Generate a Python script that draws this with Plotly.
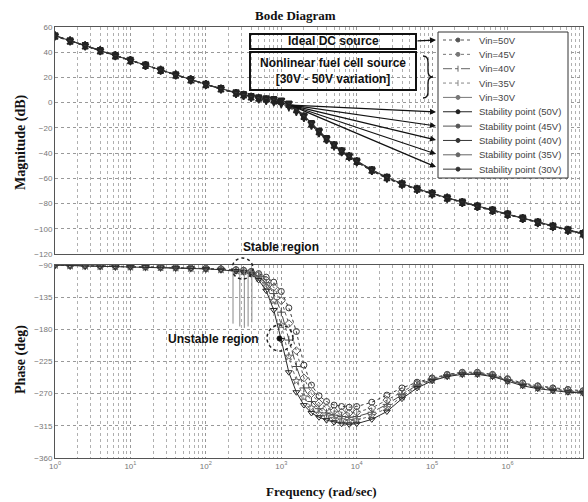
import plotly.graph_objects as go

# ---------------- data ----------------
freq_exp = [0, 0.2, 0.4, 0.6, 0.8, 1.0, 1.2, 1.4, 1.6, 1.8, 2.0, 2.2, 2.4, 2.5,
            2.6, 2.7, 2.8, 2.9, 3.0, 3.1, 3.2, 3.3, 3.4, 3.5, 3.6, 3.7, 3.8, 3.9,
            4.0, 4.2, 4.4, 4.6, 4.8, 5.0, 5.2, 5.4, 5.6, 5.8, 6.0, 6.2, 6.4, 6.6, 6.8, 7.0]

series_names = ["Vin=50V", "Vin=45V", "Vin=40V", "Vin=35V", "Vin=30V"]

mag_50 = [53, 49, 45.2, 41.3, 37.4, 33.5, 29.6, 25.8, 22, 18.2, 14.4, 10.7, 7.2, 5.6,
          4.1, 2.8, 1.6, 0.4, -1.2, -3.6, -7.2, -12, -18, -24, -29.5, -34.5, -39, -43,
          -47, -54, -60, -64.8, -68.8, -72.4, -75.8, -79.2, -82.4, -85.6, -88.8, -92, -95.2, -98.3, -101.3, -104.2]
mag_45 = [52.8, 48.9, 45.0, 41.2, 37.3, 33.4, 29.5, 25.7, 21.9, 18.1, 14.4, 10.8, 7.3, 5.8,
          4.3, 3.1, 2.0, 1.0, -0.4, -2.8, -6.6, -11.6, -17.6, -23.6, -29.2, -34.2, -38.8, -42.8,
          -46.8, -53.8, -59.8, -64.6, -68.7, -72.3, -75.7, -79.1, -82.3, -85.5, -88.7, -91.9, -95.1, -98.2, -101.2, -104.1]
mag_40 = [53.2, 49.1, 45.3, 41.4, 37.5, 33.6, 29.7, 25.9, 22.1, 18.3, 14.5, 10.9, 7.5, 6.0,
          4.5, 3.4, 2.4, 1.6, 0.4, -2.0, -6.0, -11.2, -17.2, -23.2, -28.9, -33.9, -38.6, -42.6,
          -46.6, -53.6, -59.6, -64.5, -68.6, -72.2, -75.6, -79.0, -82.2, -85.4, -88.6, -91.8, -95.0, -98.1, -101.1, -104.0]
mag_35 = [52.9, 48.8, 45.1, 41.2, 37.3, 33.4, 29.6, 25.8, 22.0, 18.2, 14.5, 11.0, 7.7, 6.2,
          4.7, 3.7, 2.9, 2.3, 1.2, -1.2, -5.4, -10.8, -16.8, -22.8, -28.6, -33.6, -38.4, -42.4,
          -46.4, -53.4, -59.4, -64.4, -68.5, -72.1, -75.5, -78.9, -82.1, -85.3, -88.5, -91.7, -94.9, -98.0, -101.0, -103.9]
mag_30 = [53.1, 49.0, 45.2, 41.3, 37.4, 33.5, 29.7, 25.9, 22.1, 18.3, 14.6, 11.1, 7.9, 6.4,
          4.9, 4.0, 3.4, 3.0, 2.0, -0.4, -4.8, -10.4, -16.4, -22.4, -28.3, -33.3, -38.2, -42.2,
          -46.2, -53.2, -59.2, -64.3, -68.4, -72.0, -75.4, -78.8, -82.0, -85.2, -88.4, -91.6, -94.8, -97.9, -100.9, -103.8]

ph_50 = [-90, -90.6, -91, -91.4, -91.8, -92.2, -92.6, -93, -93.5, -94, -94.6, -95.4, -96.5, -97.3,
         -99, -102, -107, -114, -127, -150, -183, -230, -258, -273, -281, -286, -288, -289,
         -288, -282, -272, -262, -254, -248, -243, -240, -240, -243, -249, -255, -259, -262, -264, -266]
ph_45 = [-90, -90.7, -91.1, -91.5, -91.9, -92.3, -92.7, -93.1, -93.6, -94.1, -94.8, -95.7, -96.9, -97.9,
         -100, -104, -111, -121, -140, -172, -210, -248, -270, -283, -290, -294, -296, -297,
         -296, -290, -279, -267, -256, -249, -244, -241, -241, -244, -250, -256, -260, -263, -265, -267]
ph_40 = [-90, -90.8, -91.2, -91.6, -92.0, -92.4, -92.8, -93.2, -93.7, -94.3, -95.0, -96.0, -97.4, -98.5,
         -101, -106, -115, -130, -156, -195, -232, -262, -281, -291, -297, -300, -302, -303,
         -302, -296, -285, -271, -258, -250, -245, -242, -242, -245, -251, -257, -261, -264, -266, -268]
ph_35 = [-90, -90.9, -91.3, -91.7, -92.1, -92.5, -92.9, -93.3, -93.8, -94.4, -95.2, -96.3, -97.9, -99.2,
         -102, -108, -120, -140, -174, -218, -252, -275, -290, -298, -302, -305, -307, -308,
         -307, -301, -290, -274, -260, -251, -245, -242, -242, -245, -252, -258, -262, -265, -267, -268]
ph_30 = [-90, -91.0, -91.4, -91.8, -92.2, -92.6, -93.0, -93.5, -94.0, -94.6, -95.4, -96.6, -98.4, -100.0,
         -103, -111, -126, -153, -195, -240, -268, -286, -297, -303, -307, -310, -312, -313,
         -312, -306, -295, -277, -262, -252, -246, -243, -243, -246, -253, -259, -263, -266, -268, -269]

# stability points (crossover of each source voltage)
stab_names = ["Stability point (50V)", "Stability point (45V)", "Stability point (40V)",
              "Stability point (35V)", "Stability point (30V)"]
stab_exp = [2.93, 2.95, 2.97, 2.99, 3.01]
stab_mag = [0.0, 0.5, 1.2, 1.8, 2.4]

# vertical drop lines in phase plot (wrapping artefacts)
drop_exp = [2.36, 2.45, 2.51, 2.56, 2.61]
drop_top = [-95, -96, -97, -98, -99]
drop_bot = [-172, -176, -178, -176, -170]

x_tick_exp = [0, 1, 2, 3, 4, 5, 6, 7]
mag_ticks = [60, 40, 20, 0, -20, -40, -60, -80, -100, -120]
ph_ticks = [-90, -135, -180, -225, -270, -315, -360]

# ---------------- helpers ----------------
freq = [10 ** e for e in freq_exp]
L, R, T, B = 55, 5, 27, 44
W, H = 588, 502
PW, PH = W - L - R, H - T - B


def px(x):
    return (x - L) / PW


def py(y):
    return (H - B - y) / PH


mags = [mag_50, mag_45, mag_40, mag_35, mag_30]
phs = [ph_50, ph_45, ph_40, ph_35, ph_30]
colors = ["#3a3a3a", "#5a5a5a", "#4a4a4a", "#6a6a6a", "#2a2a2a"]
mag_symbols = ["line-ns-open", "diamond-tall-open", "line-ns-open", "hourglass-open", "triangle-down-open"]
symbols = ["circle-open", "diamond-open", "cross-thin-open", "star-open", "triangle-down-open"]
dashes = ["dot", "dot", "dashdot", "dot", "solid"]

fig = go.Figure()
for i in range(5):
    fig.add_trace(go.Scatter(x=freq, y=mags[i], name=series_names[i], mode="lines+markers",
                             line=dict(color="#333", width=1.2, dash=dashes[i]),
                             marker=dict(symbol=mag_symbols[i], size=6, color="#222",
                                         line=dict(width=1.5, color="#222")),
                             showlegend=False, xaxis="x", yaxis="y"))
for i in range(5):
    fig.add_trace(go.Scatter(x=freq, y=phs[i], name=series_names[i], mode="lines+markers",
                             line=dict(color=colors[i], width=1, dash=dashes[i]),
                             marker=dict(symbol=symbols[i], size=6, color=colors[i],
                                         line=dict(width=1, color=colors[i])),
                             showlegend=False, xaxis="x2", yaxis="y2"))
for i in range(5):
    fig.add_trace(go.Scatter(x=[10 ** stab_exp[i]], y=[stab_mag[i]], name=stab_names[i],
                             mode="markers", marker=dict(symbol="circle", size=4, color="#222"),
                             showlegend=False, xaxis="x", yaxis="y"))
for i in range(len(drop_exp)):
    fig.add_trace(go.Scatter(x=[10 ** drop_exp[i]] * 2, y=[drop_top[i], drop_bot[i]],
                             mode="lines", line=dict(color="#888", width=1),
                             showlegend=False, hoverinfo="skip", xaxis="x2", yaxis="y2"))

minor_vals = [k * 10 ** d for d in range(7) for k in range(2, 10)]
tick_font = dict(family="Arial", size=8, color="#777")
grid = dict(showgrid=True, gridcolor="#999", griddash="dot", gridwidth=1,
            showline=True, linecolor="#555", linewidth=1, mirror=True, ticks="",
            zeroline=False, tickfont=tick_font)
xcommon = dict(type="log", range=[0, 7], tickvals=[10 ** e for e in x_tick_exp],
               minor=dict(tickvals=minor_vals, showgrid=True, gridcolor="#b0b0b0",
                          griddash="dot", ticks=""), **grid)

fig.update_layout(
    width=W, height=H, margin=dict(l=L, r=R, t=T, b=B),
    paper_bgcolor="white", plot_bgcolor="white",
    xaxis=dict(anchor="y", showticklabels=False, **xcommon),
    yaxis=dict(domain=[py(254), 1], range=[-120, 60], tickvals=mag_ticks, **grid),
    xaxis2=dict(anchor="y2", matches="x",
                ticktext=["10<sup>%d</sup>" % e for e in x_tick_exp], **xcommon),
    yaxis2=dict(domain=[0, py(265)], range=[-360, -90], tickvals=ph_ticks, **grid),
    showlegend=False,
)


def label(text, x, y, size=12, family="Arial", angle=0, xanchor="center", color="#111"):
    return dict(text=text, x=px(x), y=py(y), xref="paper", yref="paper", showarrow=False,
                xanchor=xanchor, yanchor="middle", textangle=angle,
                font=dict(family=family, size=size, color=color))


ann = [
    label("<b>Bode Diagram</b>", 295, 15, 13, "Liberation Serif"),
    label("<b>Magnitude (dB)</b>", 21, 142, 14, "Liberation Serif", -90),
    label("<b>Phase (deg)</b>", 21, 360, 14, "Liberation Serif", -90),
    label("<b>Frequency (rad/sec)</b>", 321, 492, 13, "Liberation Serif"),
    label("<b>Ideal DC source</b>", 333, 41),
    label("<b>Nonlinear fuel cell source<br>[30V - 50V variation]</b>", 333, 71),
    label("<b>Stable region</b>", 281, 247),
    label("<b>Unstable region</b>", 213, 339),
    dict(text="", x=px(436), y=py(40), xref="paper", yref="paper", ax=-20, ay=1,
         showarrow=True, arrowhead=2, arrowsize=1, arrowwidth=1.2, arrowcolor="#111"),
]
for yy in [112, 126, 140, 154, 167]:
    ann.append(dict(text="", x=px(436), y=py(yy), xref="paper", yref="paper",
                    ax=290 - 436, ay=105 - yy, showarrow=True, arrowhead=2, arrowsize=1,
                    arrowwidth=1.2, arrowcolor="#111"))

# ---- hand-drawn legend (compact rows like the original) ----
legend_labels = series_names + stab_names
row_y = [40 + 14.35 * i for i in range(10)]
for i, t in enumerate(legend_labels):
    ann.append(label(t, 477, row_y[i], 9.5, "Arial", 0, "left", "#444"))

brace = "M %f,%f Q %f,%f %f,%f L %f,%f Q %f,%f %f,%f Q %f,%f %f,%f L %f,%f Q %f,%f %f,%f" % (
    px(423), py(56), px(428), py(56), px(428), py(62),
    px(428), py(71),
    px(428), py(77), px(433), py(77),
    px(428), py(77), px(428), py(83),
    px(428), py(92),
    px(428), py(98), px(423), py(98))

shapes = [
    dict(type="rect", xref="paper", yref="paper", x0=px(250), x1=px(416), y0=py(34), y1=py(49),
         line=dict(color="#111", width=2)),
    dict(type="rect", xref="paper", yref="paper", x0=px(250), x1=px(416), y0=py(52), y1=py(90),
         line=dict(color="#111", width=2)),
    dict(type="path", xref="paper", yref="paper", path=brace, line=dict(color="#111", width=1.3)),
    dict(type="circle", xref="paper", yref="paper", x0=px(232), x1=px(253), y0=py(258), y1=py(279),
         line=dict(color="#222", width=1.5, dash="dot")),
    dict(type="circle", xref="paper", yref="paper", x0=px(267), x1=px(293), y0=py(325), y1=py(351),
         line=dict(color="#222", width=1.5, dash="dot")),
    dict(type="circle", xref="paper", yref="paper", x0=px(277), x1=px(282), y0=py(336), y1=py(341),
         fillcolor="#111", line=dict(color="#111", width=1)),
    dict(type="rect", xref="paper", yref="paper", x0=px(438), x1=px(568), y0=py(32), y1=py(178),
         fillcolor="white", line=dict(color="#333", width=1), layer="above"),
]
sample_dash = ["dot", "dot", "dashdot", "dot", "solid"] + ["solid"] * 5
sample_col = ["#555", "#777", "#666", "#888", "#777"] + ["#222", "#555", "#333", "#666", "#333"]
sample_mark = ["dot", "dot", "plus", "plus", "dot"] + ["dot"] * 5
for i in range(10):
    yy = row_y[i]
    shapes.append(dict(type="line", xref="paper", yref="paper", x0=px(443), x1=px(472),
                       y0=py(yy), y1=py(yy), layer="above",
                       line=dict(color=sample_col[i], width=1, dash=sample_dash[i])))
    if sample_mark[i] == "dot":
        shapes.append(dict(type="circle", xref="paper", yref="paper", x0=px(456), x1=px(460),
                           y0=py(yy - 2), y1=py(yy + 2), layer="above",
                           fillcolor=sample_col[i], line=dict(color=sample_col[i], width=1)))
    else:
        shapes.append(dict(type="line", xref="paper", yref="paper", x0=px(458), x1=px(458),
                           y0=py(yy - 3), y1=py(yy + 3), layer="above",
                           line=dict(color=sample_col[i], width=1)))
fig.update_layout(shapes=shapes, annotations=ann)

fig.write_html("out.html")
